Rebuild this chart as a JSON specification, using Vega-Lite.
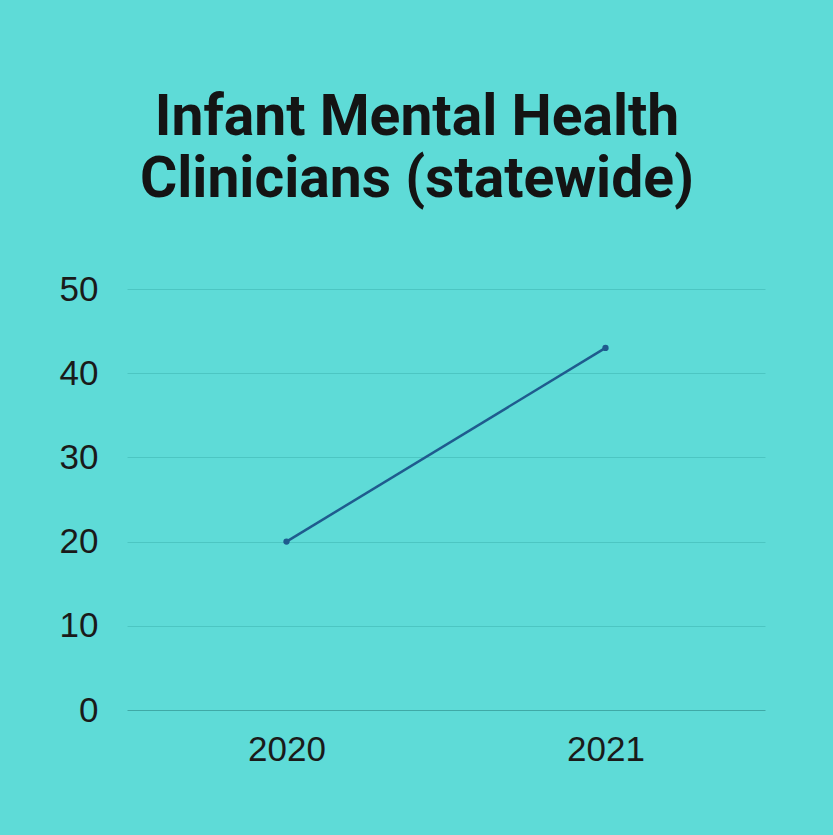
{
  "$schema": "https://vega.github.io/schema/vega-lite/v6.json",
  "width": 638,
  "height": 421,
  "autosize": {"type": "none"},
  "padding": {"left": 127, "top": 289, "right": 68, "bottom": 125},
  "background": "#5EDBD7",
  "config": {"view": {"stroke": null}},
  "title": {
    "text": ["Infant Mental Health", "Clinicians (statewide)"],
    "font": "Roboto",
    "fontWeight": "bold",
    "fontSize": 57,
    "color": "#141414",
    "lineHeight": 62,
    "anchor": "middle",
    "dx": -29,
    "offset": 63
  },
  "data": {"values": [{"year": "2020", "clinicians": 20}, {"year": "2021", "clinicians": 43}]},
  "mark": {"type": "line", "color": "#1F5B8E", "strokeWidth": 2.5, "point": {"filled": true, "size": 40, "color": "#1F5B8E"}},
  "encoding": {
    "x": {
      "field": "year", "type": "ordinal",
      "scale": {"type": "point", "padding": 0.5},
      "axis": {"title": null, "labelAngle": 0, "labelFont": "Liberation Sans", "labelFontSize": 35, "labelFontWeight": "normal", "labelColor": "#1a1a1a", "domain": false, "ticks": false, "labelPadding": 22, "grid": false}
    },
    "y": {
      "field": "clinicians", "type": "quantitative",
      "scale": {"domain": [0, 50]},
      "axis": {"values": [0, 10, 20, 30, 40, 50], "title": null, "domain": false, "ticks": false, "labelPadding": 29, "labelFont": "Liberation Sans", "labelFontSize": 35, "labelColor": "#1a1a1a",
        "gridColor": {"condition": {"test": "datum.value === 0", "value": "#3FA9A6"}, "value": "#4CC6C2"}, "gridWidth": 1}
    }
  }
}
